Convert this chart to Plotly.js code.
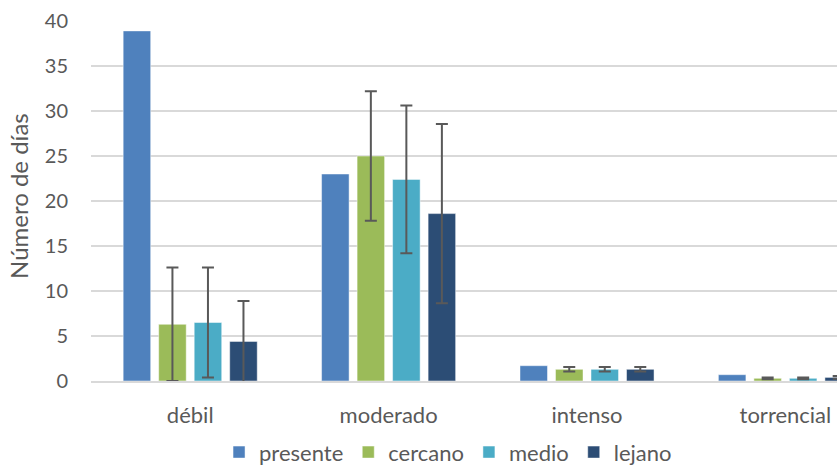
<!DOCTYPE html>
<html><head><meta charset="utf-8">
<script src="https://cdn.plot.ly/plotly-3.0.1.min.js"></script>
<style>html,body{margin:0;padding:0;background:#fff;overflow:hidden;width:837px;height:467px}</style>
</head><body><div id="chart" style="width:837px;height:480px"></div>
<script>
const categories = ["débil", "moderado", "intenso", "torrencial"];
const seriesNames = ["presente", "cercano", "medio", "lejano"];
const presente = [38.9, 23.0, 1.7, 0.7];
const cercano = [6.3, 25.0, 1.3, 0.3];
const medio = [6.5, 22.4, 1.3, 0.3];
const lejano = [4.4, 18.6, 1.3, 0.4];
const errCercano = [6.3, 7.2, 0.25, 0.1];
const errMedio = [6.1, 8.2, 0.25, 0.1];
const errLejano = [4.5, 9.95, 0.25, 0.15];
const yTicks = [0, 5, 10, 15, 20, 25, 30, 35, 40];

const colors = ["#4F81BD", "#9BBB59", "#4BACC6", "#2C4D75"];
const values = [presente, cercano, medio, lejano];
const errs = [null, errCercano, errMedio, errLejano];
const font = "Lato, 'Open Sans', sans-serif";

const traces = values.map((v, i) => {
  const t = {
    type: "bar", name: seriesNames[i], x: categories, y: v,
    marker: {color: colors[i], line: {color: "rgba(255,255,255,0.6)", width: 0.8}},
    hoverinfo: "skip"
  };
  if (errs[i]) {
    t.error_y = {type: "data", array: errs[i], visible: true, color: "#595959", thickness: 2, width: 6};
  }
  return t;
});

const layout = {
  width: 837, height: 480,
  margin: {l: 91, r: 0, t: 21, b: 99},
  paper_bgcolor: "#fff", plot_bgcolor: "#fff",
  barmode: "group", bargap: 0.284, bargroupgap: 0.225,
  font: {family: font, color: "#595959", size: 20},
  xaxis: {
    type: "category", range: [-0.5, 3.26], fixedrange: true, automargin: false,
    showgrid: false, showline: true, linecolor: "#d9d9d9", linewidth: 1.5,
    ticks: "", ticklabelstandoff: 14,
    tickfont: {family: font, size: 22, color: "#595959"}
  },
  yaxis: {
    range: [0, 40], tickvals: yTicks, fixedrange: true, automargin: false,
    showgrid: true, gridcolor: "#d9d9d9", gridwidth: 1.5, zeroline: false,
    showline: false, ticks: "", ticklabelstandoff: 22,
    tickfont: {family: font, size: 20, color: "#595959"}
  },
  showlegend: true,
  legend: {
    orientation: "h", x: 0.4786, xanchor: "center", y: -0.198, yanchor: "middle",
    font: {family: font, size: 22, color: "#595959"}, traceorder: "normal"
  },
  annotations: [{
    text: "Número de días", textangle: -90, xref: "paper", yref: "paper",
    x: -0.0965, y: 0.514, xanchor: "center", yanchor: "middle", showarrow: false,
    font: {family: font, size: 24, color: "#595959"}
  }]
};

Plotly.newPlot("chart", traces, layout, {displayModeBar: false, staticPlot: true});
</script></body></html>
